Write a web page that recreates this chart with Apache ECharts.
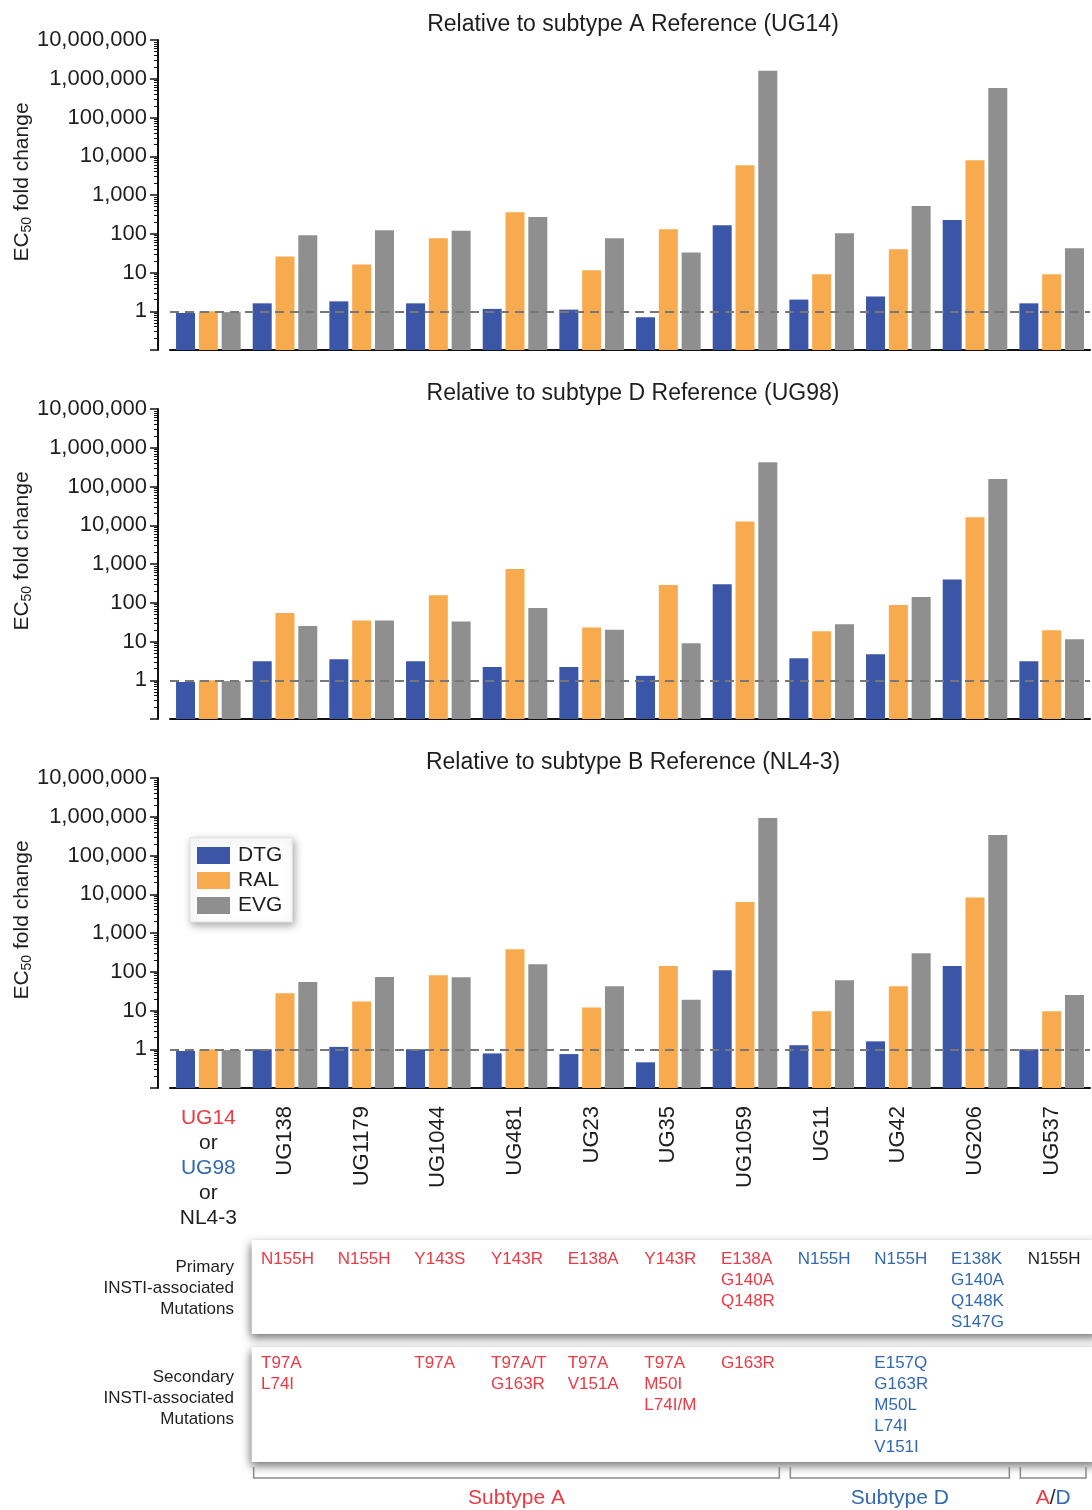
<!DOCTYPE html>
<html>
<head>
<meta charset="utf-8">
<script src="https://cdn.jsdelivr.net/npm/echarts@6/dist/echarts.min.js"></script>
<style>
  html, body { margin: 0; padding: 0; background: #fff; }
  #chart { width: 1092px; height: 1510px; }
</style>
</head>
<body>
<div id="chart"></div>
<script>
// Isolates, in plotting order
const categories = ['UG14', 'UG138', 'UG1179', 'UG1044', 'UG481', 'UG23', 'UG35',
                    'UG1059', 'UG11', 'UG42', 'UG206', 'UG537'];

// EC50 fold change relative to subtype A reference (UG14)
const dtgVsA = [0.9, 1.6, 1.8, 1.6, 1.15, 1.1, 0.7, 166, 2.0, 2.4, 225, 1.6];
const ralVsA = [1.0, 26, 16, 77, 360, 11.5, 130, 5900, 9.0, 40, 7900, 9.0];
const evgVsA = [0.95, 92, 124, 120, 270, 77, 33, 1600000, 103, 520, 580000, 42];

// EC50 fold change relative to subtype D reference (UG98)
const dtgVsD = [0.9, 3.1, 3.5, 3.1, 2.2, 2.2, 1.3, 300, 3.7, 4.7, 400, 3.1];
const ralVsD = [1.0, 54, 35, 157, 740, 23, 285, 12500, 18.5, 87, 16000, 19.5];
const evgVsD = [0.95, 25, 35, 33, 73, 20, 9, 420000, 28, 140, 155000, 11.5];

// EC50 fold change relative to subtype B reference (NL4-3)
const dtgVsB = [0.9, 1.0, 1.15, 1.0, 0.78, 0.75, 0.46, 110, 1.27, 1.6, 140, 1.0];
const ralVsB = [1.0, 28, 17, 81, 380, 12, 140, 6300, 9.6, 42, 8300, 9.6];
const evgVsB = [0.95, 54, 73, 72, 155, 42, 19, 930000, 60, 300, 340000, 25];

const panelTitles = [
  'Relative to subtype A Reference (UG14)',
  'Relative to subtype D Reference (UG98)',
  'Relative to subtype B Reference (NL4-3)'
];
const drugNames = ['DTG', 'RAL', 'EVG'];
const drugColors = ['#3b56a6', '#f8aa4e', '#8f8f8f'];

// INSTI-associated mutations per isolate (first column is the reference)
const primaryMutations = [
  [], ['N155H'], ['N155H'], ['Y143S'], ['Y143R'], ['E138A'], ['Y143R'],
  ['E138A', 'G140A', 'Q148R'], ['N155H'], ['N155H'],
  ['E138K', 'G140A', 'Q148K', 'S147G'], ['N155H']
];
const secondaryMutations = [
  [], ['T97A', 'L74I'], [], ['T97A'], ['T97A/T', 'G163R'], ['T97A', 'V151A'],
  ['T97A', 'M50I', 'L74I/M'], ['G163R'], [], ['E157Q', 'G163R', 'M50L', 'L74I', 'V151I'],
  [], []
];
const isolateSubtype = ['', 'A', 'A', 'A', 'A', 'A', 'A', 'A', 'D', 'D', 'D', 'AD'];
const subtypeGroups = [
  { key: 'A', first: 1, last: 7 },
  { key: 'D', first: 8, last: 10 },
  { key: 'AD', first: 11, last: 11 }
];

const RED = '#ea3a44';
const BLUE = '#3369b0';
const INK = '#1e1e1e';
const FONT = '"Liberation Sans", Arial, Helvetica, sans-serif';
const subtypeColor = { A: RED, D: BLUE, AD: INK };

const panelData = [
  [dtgVsA, ralVsA, evgVsA],
  [dtgVsD, ralVsD, evgVsD],
  [dtgVsB, ralVsB, evgVsB]
];
const gridTops = [40, 409, 778];
const GRID_LEFT = 170, GRID_WIDTH = 920, GRID_HEIGHT = 310;
const Y_MIN = 0.1, Y_MAX = 10000000;
const EXP_MIN = Math.log10(Y_MIN), EXP_MAX = Math.log10(Y_MAX);

// Intermediate log ticks (2..9 times each power of ten), as base-10 exponents
const minorTickExponents = [];
for (let e = EXP_MIN; e < EXP_MAX; e++) {
  for (let m = 2; m <= 9; m++) minorTickExponents.push(e + Math.log10(m));
}

function addCommas(v) {
  return String(Math.round(v)).replace(/\B(?=(\d{3})+(?!\d))/g, ',');
}

const grids = gridTops.map(t => ({
  left: GRID_LEFT, width: GRID_WIDTH, top: t, height: GRID_HEIGHT,
  containLabel: false, outerBoundsMode: 'none'
}));

const xAxes = gridTops.map((t, i) => ({
  type: 'category',
  gridIndex: i,
  data: categories,
  axisLine: { onZero: false, lineStyle: { color: '#111', width: 2 } },
  axisTick: { alignWithLabel: true, length: 7, lineStyle: { color: '#111', width: 1.5 } },
  axisLabel: i < 2 ? { show: false } : {
    interval: 0, rotate: 90, margin: 18, fontSize: 22, color: INK, fontFamily: FONT,
    formatter: (v, idx) => (idx === 0 ? '' : v)
  }
}));
// Stacked reference label under the first column of the bottom panel
xAxes.push({
  type: 'category',
  gridIndex: 2,
  position: 'bottom',
  data: categories,
  axisLine: { show: false, onZero: false },
  axisTick: { show: false },
  axisLabel: {
    interval: 0, margin: 18, fontFamily: FONT,
    formatter: (v, idx) => (idx === 0 ? '{r|UG14}\n{k|or}\n{b|UG98}\n{k|or}\n{k|NL4-3}' : ''),
    rich: {
      r: { color: RED, fontSize: 21, lineHeight: 25, fontFamily: FONT },
      b: { color: BLUE, fontSize: 21, lineHeight: 25, fontFamily: FONT },
      k: { color: INK, fontSize: 21, lineHeight: 25, fontFamily: FONT }
    }
  }
});

const yAxes = gridTops.map((t, i) => ({
  type: 'log',
  logBase: 10,
  gridIndex: i,
  min: Y_MIN,
  max: Y_MAX,
  startValue: Y_MIN,
  splitNumber: 8,
  offset: 12,
  name: '{a|EC}{s|50}{a| fold change}',
  nameLocation: 'middle',
  nameGap: 124,
  nameMoveOverlap: false,
  nameTextStyle: {
    padding: [0, 0, 0, 26],
    rich: {
      a: { fontSize: 21, color: INK, fontFamily: FONT },
      s: { fontSize: 14, color: INK, fontFamily: FONT, padding: [10, 0, 0, 0] }
    }
  },
  axisLine: { show: true, onZero: false, lineStyle: { color: '#111', width: 2 } },
  axisTick: { show: true, length: 8, lineStyle: { color: '#111', width: 1.5 } },
  splitLine: { show: false },
  axisLabel: {
    fontSize: 22, color: INK, fontFamily: FONT, margin: 11,
    formatter: v => (v < 1 ? '' : addCommas(v))
  }
}));
// Companion exponent axes carrying the short intermediate ticks
gridTops.forEach((t, i) => {
  yAxes.push({
    type: 'value',
    gridIndex: i,
    position: 'left',
    min: EXP_MIN,
    max: EXP_MAX,
    offset: 12,
    axisLine: { show: false, onZero: false },
    axisLabel: { show: false },
    splitLine: { show: false },
    axisTick: {
      show: true, length: 4, customValues: minorTickExponents,
      lineStyle: { color: '#111', width: 1 }
    }
  });
});

const series = [];
panelData.forEach((drugs, p) => {
  drugs.forEach((values, d) => {
    const s = {
      name: drugNames[d],
      type: 'bar',
      xAxisIndex: p,
      yAxisIndex: p,
      data: values,
      barWidth: 19,
      barGap: '20%',
      itemStyle: { color: drugColors[d] },
      silent: true
    };
    if (d === 0) {
      s.markLine = {
        silent: true,
        symbol: 'none',
        label: { show: false },
        lineStyle: { color: '#777', type: [9, 6], width: 1.8 },
        data: [{ yAxis: 1 }]
      };
    }
    series.push(s);
  });
});

const titles = panelTitles.map((text, i) => ({
  text,
  left: 628,
  textAlign: 'center',
  top: gridTops[i] - 32,
  textStyle: { fontSize: 23, fontWeight: 'normal', color: INK, fontFamily: FONT }
}));

const option = {
  animation: false,
  backgroundColor: '#fff',
  title: titles,
  grid: grids,
  xAxis: xAxes,
  yAxis: yAxes,
  legend: {
    data: drugNames,
    orient: 'vertical',
    left: 190,
    top: 838,
    icon: 'rect',
    itemWidth: 33,
    itemHeight: 17,
    itemGap: 4,
    padding: [7, 10, 6, 7],
    backgroundColor: '#fff',
    borderColor: '#e2e2e2',
    borderWidth: 1,
    shadowBlur: 8,
    shadowColor: 'rgba(0,0,0,0.35)',
    shadowOffsetX: 2,
    shadowOffsetY: 3,
    textStyle: { fontSize: 21, color: INK, fontFamily: FONT, padding: [0, 0, 0, 3] }
  },
  series
};

const chart = echarts.init(document.getElementById('chart'), null, { renderer: 'canvas' });
chart.setOption(option);

// Mutation table and subtype brackets, placed under the bottom panel's category columns
const xs = categories.map((c, i) => chart.convertToPixel({ xAxisIndex: 2 }, i));
const band = xs[1] - xs[0];
const tableLeft = xs[1] - band / 2 + 5;
const graphics = [];

const boxes = [
  { top: 1240, height: 94 },
  { top: 1347, height: 115 }
];
boxes.forEach(b => {
  graphics.push({
    type: 'rect',
    shape: { x: tableLeft, y: b.top, width: 1100 - tableLeft, height: b.height },
    style: {
      fill: '#fff',
      shadowBlur: 9,
      shadowColor: 'rgba(0,0,0,0.55)',
      shadowOffsetX: -2,
      shadowOffsetY: 4
    },
    silent: true
  });
});

const rowLabels = [
  { text: 'Primary\nINSTI-associated\nMutations', top: 1257 },
  { text: 'Secondary\nINSTI-associated\nMutations', top: 1367 }
];
rowLabels.forEach(r => {
  graphics.push({
    type: 'text',
    x: 234, y: r.top,
    style: {
      text: r.text, fill: INK, font: '17px ' + FONT,
      align: 'right', verticalAlign: 'top', lineHeight: 21
    },
    silent: true
  });
});

function mutationTexts(list, top) {
  list.forEach((muts, i) => {
    if (!muts.length) return;
    graphics.push({
      type: 'text',
      x: xs[i] - 24, y: top,
      style: {
        text: muts.join('\n'), fill: subtypeColor[isolateSubtype[i]] || INK,
        font: '17px ' + FONT, align: 'left', verticalAlign: 'top', lineHeight: 21
      },
      silent: true
    });
  });
}
mutationTexts(primaryMutations, 1249);
mutationTexts(secondaryMutations, 1353);

subtypeGroups.forEach(g => {
  const x1 = xs[g.first] - band / 2 + 7;
  const x2 = xs[g.last] + band / 2 - 4;
  graphics.push({
    type: 'polyline',
    shape: { points: [[x1, 1467], [x1, 1478], [x2, 1478], [x2, 1467]] },
    style: { stroke: '#8a8a8a', lineWidth: 1.5, fill: null },
    silent: true
  });
  const cx = (x1 + x2) / 2;
  const label = g.key === 'AD'
    ? '{r|A}{k|/}{b|D}'
    : (g.key === 'A' ? '{r|Subtype A}' : '{b|Subtype D}');
  graphics.push({
    type: 'text',
    x: cx, y: 1498,
    style: {
      text: label, align: 'center', verticalAlign: 'middle',
      font: '21px ' + FONT,
      rich: {
        r: { fill: RED, font: '21px ' + FONT },
        b: { fill: BLUE, font: '21px ' + FONT },
        k: { fill: INK, font: '21px ' + FONT }
      }
    },
    silent: true
  });
});

chart.setOption({ graphic: graphics });
</script>
</body>
</html>
